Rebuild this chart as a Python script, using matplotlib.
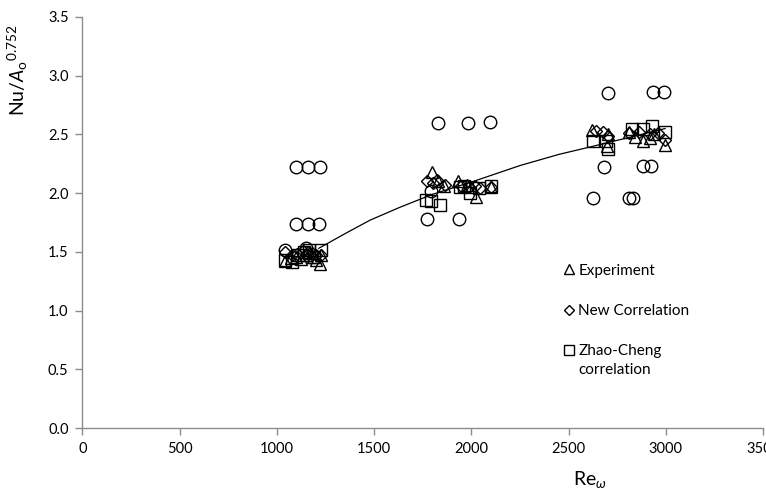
import matplotlib
matplotlib.use("Agg")
import matplotlib.pyplot as plt
from matplotlib.lines import Line2D
from matplotlib.ticker import FormatStrFormatter

plt.rcParams["font.family"] = ["Lato", "DejaVu Sans"]
plt.rcParams["mathtext.fontset"] = "custom"
plt.rcParams["mathtext.rm"] = "Lato"
plt.rcParams["mathtext.it"] = "Lato:italic"

# Experiment (triangles)
exp_re = [1040, 1070, 1100, 1125, 1150, 1165, 1185, 1200, 1222, 1225,
          1797, 1830, 1860, 1930, 1975, 2000, 2025, 2100,
          2622, 2697, 2700, 2808, 2840, 2885, 2920, 2940, 2996]
exp_nu = [1.42, 1.45, 1.46, 1.44, 1.47, 1.49, 1.46, 1.43, 1.40, 1.47,
          2.18, 2.10, 2.06, 2.10, 2.07, 2.05, 1.97, 2.05,
          2.54, 2.40, 2.50, 2.52, 2.48, 2.44, 2.47, 2.50, 2.41]

# New correlation (diamonds)
new_re = [1040, 1075, 1105, 1135, 1160, 1180, 1200, 1225,
          1772, 1800, 1825, 1865, 1945, 1990, 2020, 2045, 2100,
          2640, 2678, 2700, 2808, 2860, 2920, 2960, 2996]
new_nu = [1.50, 1.47, 1.48, 1.51, 1.50, 1.49, 1.47, 1.47,
          2.10, 2.09, 2.11, 2.07, 2.06, 2.05, 2.06, 2.04, 2.05,
          2.53, 2.52, 2.49, 2.51, 2.52, 2.50, 2.51, 2.45]

# Zhao-Cheng correlation (squares)
zc_re = [1040, 1075, 1110, 1140, 1165, 1190, 1225,
         1768, 1794, 1836, 1940, 1960, 1995, 2040, 2100,
         2625, 2690, 2703, 2825, 2885, 2928, 2996]
zc_nu = [1.43, 1.41, 1.47, 1.50, 1.52, 1.46, 1.52,
         1.94, 1.93, 1.90, 2.05, 2.06, 2.00, 2.04, 2.06,
         2.44, 2.44, 2.38, 2.55, 2.55, 2.57, 2.52]

# unlabelled series (circles)
circ_re = [1040, 1150, 1098, 1158, 1218, 1098, 1158, 1221,
           1794, 1771, 1934, 1830, 1983, 2097,
           2624, 2808, 2833, 2683, 2885, 2924, 2702, 2933, 2990]
circ_nu = [1.52, 1.53, 1.74, 1.74, 1.74, 2.22, 2.22, 2.22,
           2.02, 1.78, 1.78, 2.595, 2.60, 2.606,
           1.96, 1.96, 1.96, 2.22, 2.23, 2.23, 2.85, 2.86, 2.86]

# trend curve
fit_re = [1215, 1350, 1479, 1633, 1800, 2010, 2250, 2450, 2602, 2800, 2996]
fit_nu = [1.53, 1.655, 1.77, 1.88, 1.99, 2.10, 2.235, 2.33, 2.39, 2.47, 2.55]

fig = plt.figure(figsize=(7.66, 4.94), dpi=100)
ax = fig.add_axes([0.1077, 0.1336, 0.8885, 0.832])

mk = dict(linestyle="none", color="black", markerfacecolor="none", markeredgewidth=1.0)
ax.plot(circ_re, circ_nu, marker="o", markersize=9, **mk)
ax.plot(exp_re, exp_nu, marker="^", markersize=9, **mk)
ax.plot(new_re, new_nu, marker="D", markersize=6.6, **mk)
ax.plot(zc_re, zc_nu, marker="s", markersize=9, **mk)
ax.plot(fit_re, fit_nu, color="black", linewidth=0.9)

ax.set_xlim(0, 3500)
ax.set_ylim(0, 3.5)
ax.set_xticks(range(0, 3501, 500))
ax.set_yticks([i * 0.5 for i in range(8)])
ax.yaxis.set_major_formatter(FormatStrFormatter("%.1f"))

for s in ("top", "right"):
    ax.spines[s].set_visible(False)
for s in ("left", "bottom"):
    ax.spines[s].set_color("#8c8c8c")
    ax.spines[s].set_linewidth(1.0)
ax.tick_params(direction="out", length=5, width=1.0, color="#8c8c8c",
               labelsize=10.5, labelcolor="black", pad=5)

ax.set_xlabel(r"Re$_{\omega}$", fontsize=14)
ax.xaxis.set_label_coords(0.746, -0.1)
ax.set_ylabel(r"Nu/$\mathit{A}_\mathrm{o}{}^{0.752}$", fontsize=14)
ax.yaxis.set_label_coords(-0.077, 0.87)

handles = [
    Line2D([], [], marker="^", markersize=7.5, **mk),
    Line2D([], [], marker="D", markersize=5.5, **mk),
    Line2D([], [], marker="s", markersize=7.5, **mk),
]
labels = ["Experiment", "New Correlation", "Zhao-Cheng"]
leg = ax.legend(handles, labels, loc="upper left", bbox_to_anchor=(0.697, 0.418),
                frameon=False, fontsize=11, handlelength=0.6, handletextpad=0.3,
                labelspacing=1.72, borderpad=0)

# second line of the last legend label, placed under its first line
fig.canvas.draw()
bb = leg.get_texts()[2].get_window_extent()
ax.annotate("correlation", xy=(bb.x0, bb.y0), xycoords="figure pixels",
            xytext=(0, -11.5), textcoords="offset points",
            ha="left", va="baseline", fontsize=11)

fig.savefig("out.png", dpi=100)
